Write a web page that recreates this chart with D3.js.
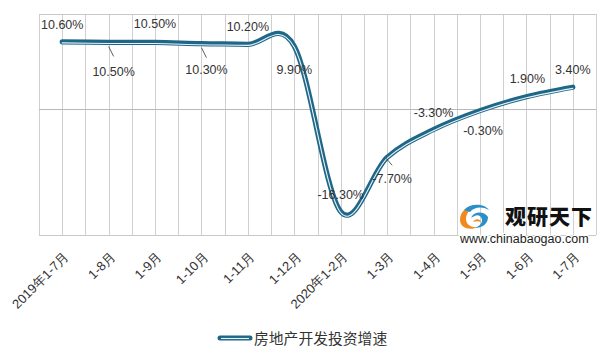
<!DOCTYPE html>
<html><head><meta charset="utf-8">
<script src="https://cdn.jsdelivr.net/npm/d3@7"></script>
<style>body{margin:0;background:#fff}svg{display:block}</style>
</head><body>
<script>
const categories = ["2019年1-7月","1-8月","1-9月","1-10月","1-11月","1-12月","2020年1-2月","1-3月","1-4月","1-5月","1-6月","1-7月"];
const values = [10.6,10.5,10.5,10.3,10.2,9.9,-16.3,-7.7,-3.3,-0.3,1.9,3.4];
const valueLabels = ["10.60%","10.50%","10.50%","10.30%","10.20%","9.90%","-16.30%","-7.70%","-3.30%","-0.30%","1.90%","3.40%"];
const seriesName = "房地产开发投资增速";
const yDomain = [-20, 15];

(function () {
const W = 604, H = 356;
const pL = 39, pR = 596, pT = 14, pB = 235;
const svg = d3.select("body").append("svg").attr("width", W).attr("height", H);
const font = "'Liberation Sans', Arial, sans-serif";

const x = d3.scaleBand().domain(categories).range([pL, pR]).padding(0);
const xc = d => x(d) + x.bandwidth() / 2;
const y = d3.scaleLinear().domain(yDomain).range([pB, pT]);

// vertical gridlines (every half band)
const g = svg.append("g");
const vx = [];
categories.forEach(c => { vx.push(x(c)); vx.push(xc(c)); });
vx.push(pR);
g.selectAll("line.v").data(vx).join("line")
  .attr("x1", d => Math.round(d) + 0.5).attr("x2", d => Math.round(d) + 0.5).attr("y1", pT).attr("y2", pB)
  .attr("stroke", "#d0d0d0").attr("stroke-width", 1);
// horizontal lines
g.selectAll("line.h").data([yDomain[1], 0, yDomain[0]]).join("line")
  .attr("x1", pL).attr("x2", pR).attr("y1", d => Math.round(y(d)) + 0.5).attr("y2", d => Math.round(y(d)) + 0.5)
  .attr("stroke", d => d === 0 ? "#b8b8b8" : "#c8c8c8").attr("stroke-width", 1);

// watermark
const wm = svg.append("g");
const lg = wm.append("g").attr("transform", "translate(474,216)");
lg.append("path").attr("d", "M-14,4 C-14,-6 -4,-12 6,-10 C-2,-9 -8,-4 -8,3 C-8,9 -2,12 4,11 C-4,15 -14,12 -14,4 Z").attr("fill", "#f08a1e");
lg.append("path").attr("d", "M-10,-6 C-4,-13 10,-13 15,-6 C8,-10 0,-9 -4,-4 Z").attr("fill", "#2a8fc7");
lg.append("path").attr("d", "M-3,2 C0,-5 10,-5 14,1 C14,8 8,12 1,12 C8,9 10,4 6,0 C3,-2 0,0 -3,2 Z").attr("fill", "#2a8fc7");
lg.append("path").attr("d", "M-1,6 C2,2 6,3 7,6 C5,5 2,5 -1,6 Z").attr("fill", "#f08a1e");
wm.append("text").attr("x", 505).attr("y", 224).text("观研天下")
  .attr("font-family", "'Noto Sans CJK SC', sans-serif").attr("font-weight", "900").attr("font-size", 21).attr("fill", "#111").attr("letter-spacing", 1);
wm.append("text").attr("x", 460).attr("y", 243).text("www.chinabaogao.com")
  .attr("font-family", font).attr("font-size", 12.5).attr("fill", "#222")
  .attr("stroke", "#fff").attr("stroke-width", 2.5).attr("paint-order", "stroke");

// line
const line = d3.line().x((d, i) => xc(categories[i])).y(d => y(d)).curve(d3.curveCardinal.tension(0));
svg.append("path").datum(values).attr("d", line).attr("fill", "none")
  .attr("stroke", "#1f6788").attr("stroke-width", 5.2).attr("stroke-linejoin", "round").attr("stroke-linecap", "round");
svg.append("path").datum(values).attr("d", line).attr("fill", "none").attr("transform", "translate(0,1.1)")
  .attr("stroke", "#e8f2f6").attr("stroke-width", 1.1).attr("stroke-linecap", "round");

// data labels: [dx, dy] relative to point (label center / baseline)
const labelPos = [[0, -13], [5, 33.5], [0, -14], [5, 30.5], [0, -13], [0, 27.5], [0, -13], [5, 26], [0, -12.5], [3, 24.5], [1, -13.7], [0, -13]];
const lab = svg.append("g").attr("font-family", font).attr("font-size", 12.5).attr("fill", "#333");
lab.selectAll("text").data(values).join("text")
  .attr("x", (d, i) => xc(categories[i]) + labelPos[i][0])
  .attr("y", (d, i) => y(d) + labelPos[i][1])
  .attr("text-anchor", "middle").text((d, i) => valueLabels[i]);
// leader lines
const leaders = [[1, 0, 5, 4, 14], [3, 0, 5, 4, 14], [7, -1, 6, 1, 8]];
svg.selectAll("line.ld").data(leaders).join("line")
  .attr("x1", d => xc(categories[d[0]]) + d[1]).attr("y1", d => y(values[d[0]]) + d[3])
  .attr("x2", d => xc(categories[d[0]]) + d[1] + d[2]).attr("y2", d => y(values[d[0]]) + d[4])
  .attr("stroke", "#333").attr("stroke-width", 0.8);

// x axis labels
const ax = svg.append("g").attr("font-family", font).attr("font-size", 13).attr("fill", "#333");
ax.selectAll("text").data(categories).join("text")
  .attr("transform", d => `translate(${xc(d) + 1},${pB + 16}) rotate(-45)`)
  .attr("text-anchor", "end").attr("dy", "0.7em").text(d => d);

// legend
const leg = svg.append("g");
leg.append("line").attr("x1", 220).attr("x2", 250).attr("y1", 338).attr("y2", 338)
  .attr("stroke", "#1f6788").attr("stroke-width", 5).attr("stroke-linecap", "round");
leg.append("line").attr("x1", 221).attr("x2", 249).attr("y1", 338.5).attr("y2", 338.5)
  .attr("stroke", "#e8f2f6").attr("stroke-width", 1.1);
leg.append("text").attr("x", 254).attr("y", 343.5).text(seriesName)
  .attr("font-family", "'Noto Sans CJK SC', sans-serif").attr("font-size", 14.8).attr("fill", "#333");
})();
</script>
</body></html>
